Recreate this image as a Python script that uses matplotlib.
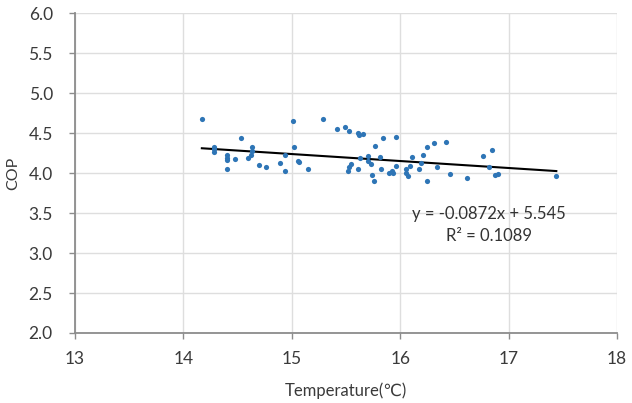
import numpy as np
import matplotlib
matplotlib.use("Agg")
import matplotlib.pyplot as plt

plt.rcParams['font.family'] = ['Lato', 'DejaVu Sans']

# datos: temperatura (C) y COP
temperatura = [14.17, 14.28, 14.28, 14.28, 14.40, 14.40, 14.40, 14.40, 14.48, 14.53,
               14.63, 14.63, 14.62, 14.60, 14.70, 14.76, 14.89, 14.94, 14.94, 15.01,
               15.02, 15.06, 15.07, 15.15, 15.29, 15.42, 15.49, 15.53, 15.61, 15.62,
               15.66, 15.77, 15.63, 15.70, 15.70, 15.55, 15.53, 15.52, 15.61, 15.73,
               15.74, 15.76, 15.84, 15.96, 15.81, 15.82, 15.90, 15.92, 15.93, 15.96,
               16.05, 16.05, 16.07, 16.09, 16.11, 16.17, 16.21, 16.19, 16.25, 16.31,
               16.42, 16.25, 16.34, 16.46, 16.62, 16.76, 16.85, 16.82, 16.87, 16.90,
               17.44]
cop = [4.67, 4.33, 4.30, 4.26, 4.22, 4.19, 4.16, 4.05, 4.18, 4.44,
       4.32, 4.28, 4.22, 4.19, 4.10, 4.08, 4.13, 4.22, 4.03, 4.65,
       4.32, 4.15, 4.14, 4.05, 4.68, 4.55, 4.58, 4.53, 4.50, 4.48,
       4.49, 4.34, 4.19, 4.21, 4.15, 4.11, 4.07, 4.03, 4.05, 4.11,
       3.98, 3.90, 4.44, 4.45, 4.20, 4.05, 4.00, 4.02, 4.00, 4.09,
       4.05, 4.00, 3.96, 4.09, 4.20, 4.05, 4.23, 4.12, 4.33, 4.37,
       4.39, 3.90, 4.07, 3.99, 3.94, 4.21, 4.29, 4.07, 3.98, 3.99,
       3.96]

# recta de tendencia indicada en el grafico
pendiente = -0.0872
ordenada = 5.545
texto_ajuste = "y = -0.0872x + 5.545\nR² = 0.1089"

x_ticks = [13, 14, 15, 16, 17, 18]
y_ticks = [2.0, 2.5, 3.0, 3.5, 4.0, 4.5, 5.0, 5.5, 6.0]

fig = plt.figure(figsize=(6.32, 4.03), dpi=100)
ax = fig.add_axes([0.1187, 0.1737, 0.8576, 0.794])

ax.scatter(temperatura, cop, s=14, color='#2E75B6', zorder=3, linewidths=0)

x_linea = np.array([min(temperatura), max(temperatura)])
ax.plot(x_linea, pendiente * x_linea + ordenada, color='black', lw=1.5, zorder=2)

ax.text(16.82, 3.35, texto_ajuste, ha='center', va='center', fontsize=12,
        color='#333333', linespacing=1.5)

ax.set_xlim(13, 18)
ax.set_ylim(2.0, 6.0)
ax.set_xticks(x_ticks)
ax.set_yticks(y_ticks)
ax.set_yticklabels([f"{v:.1f}" for v in y_ticks])
ax.grid(True, color='#dedede', lw=1.0, zorder=0)
ax.set_axisbelow(True)

for lado in ['top', 'right']:
    ax.spines[lado].set_visible(False)
for lado in ['left', 'bottom']:
    ax.spines[lado].set_color('#8c8c8c')
    ax.spines[lado].set_linewidth(1.3)

ax.tick_params(axis='both', colors='#8c8c8c', direction='out', length=4, width=1,
               labelsize=12.5, labelcolor='#3a3a3a')
ax.tick_params(axis='y', pad=12)
ax.tick_params(axis='x', pad=9)

ax.set_xlabel("Temperature(℃)", fontsize=12, color='#3a3a3a', labelpad=11)
ax.set_ylabel("COP", fontsize=11.5, color='#3a3a3a', labelpad=6)

fig.savefig("out.png", dpi=100, facecolor='white')
